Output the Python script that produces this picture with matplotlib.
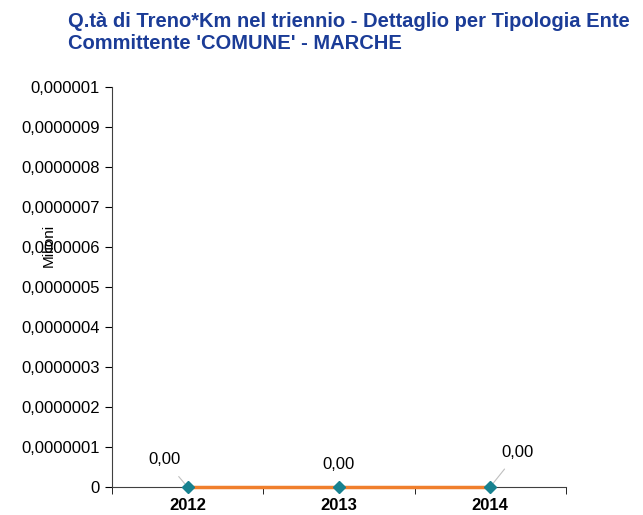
import numpy as np
import matplotlib
matplotlib.use("Agg")
from matplotlib import pyplot as plt

years = ["2012", "2013", "2014"]
values = [0.0, 0.0, 0.0]
data_labels = ["0,00", "0,00", "0,00"]
yticks = [0.0000001 * k for k in range(11)]
ytick_labels = ["0"] + ["0,%07d" % k for k in range(1, 10)] + ["0,000001"]

plt.rcParams['font.family'] = ['Liberation Sans', 'DejaVu Sans']

fig = plt.figure(figsize=(6.43, 5.15), dpi=100)
ax = fig.add_axes([0.174, 0.0544, 0.706, 0.7766])

x = np.arange(len(years))
ax.plot(x, values, color='#F07F2C', lw=2.5, zorder=4, clip_on=False)
ax.plot(x, values, ls='none', marker='D', ms=6.5, color='#17818F', zorder=5, clip_on=False)

# data labels, 2012 and 2014 have leader lines
offsets = [(-16.5, 19.5), (0, 16), (20, 25)]
for xi, v, lab, (dx, dy) in zip(x, values, data_labels, offsets):
    if dx != 0:
        ax.annotate(lab, (xi, v), xytext=(dx, dy), textcoords='offset points',
                    ha='center', va='center', fontsize=12,
                    arrowprops=dict(arrowstyle='-', color='#BFBFBF', lw=0.8,
                                    shrinkA=6, shrinkB=3))
    else:
        ax.annotate(lab, (xi, v), xytext=(dx, dy), textcoords='offset points',
                    ha='center', va='center', fontsize=12)

ax.set_xlim(-0.5, 2.5)
ax.set_ylim(0, 0.000001)
ax.set_yticks(yticks)
ax.set_yticklabels(ytick_labels, fontsize=12)
ax.set_xticks(x)
ax.set_xticklabels(years, fontsize=12, fontweight='bold')
ax.set_xticks([-0.5, 0.5, 1.5, 2.5], minor=True)
ax.tick_params(axis='x', which='major', length=0, pad=8)
ax.tick_params(axis='x', which='minor', length=5, direction='out')
ax.tick_params(axis='y', length=5, direction='out')

for s in ['top', 'right']:
    ax.spines[s].set_visible(False)
ax.spines['left'].set_color('#404040')
ax.spines['bottom'].set_color('#404040')

fig.text(0.076, 0.524, "Milioni", rotation=90, fontsize=11,
         ha='center', va='center')

fig.text(0.106, 0.976, "Q.tà di Treno*Km nel triennio - Dettaglio per Tipologia Ente\nCommittente 'COMUNE' - MARCHE",
         fontsize=14.5, fontweight='bold', color='#1B3C97', ha='left', va='top',
         linespacing=1.15)

fig.savefig("out.png", dpi=100)
